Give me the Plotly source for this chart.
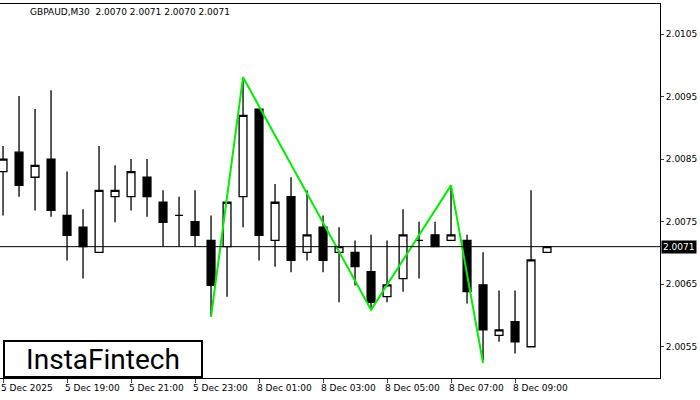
import plotly.graph_objects as go

symbol = "GBPAUD,M30  2.0070 2.0071 2.0070 2.0071"
opens = [2.00830, 2.00861, 2.00821, 2.00850, 2.00760, 2.00741, 2.00701, 2.00790, 2.00790, 2.00821,
         2.00781, 2.00760, 2.00750, 2.00720, 2.00710, 2.00790, 2.00930, 2.00720, 2.00790, 2.00701,
         2.00741, 2.00701, 2.00701, 2.00670, 2.00630, 2.00659, 2.00720, 2.00729, 2.00720, 2.00720,
         2.00649, 2.00568, 2.00590, 2.00550, 2.00701]
highs = [2.00871, 2.00951, 2.00930, 2.00960, 2.00830, 2.00770, 2.00871, 2.00840, 2.00850, 2.00850,
         2.00800, 2.00790, 2.00800, 2.00760, 2.00781, 2.00981, 2.00930, 2.00810, 2.00821, 2.00800,
         2.00760, 2.00741, 2.00720, 2.00729, 2.00720, 2.00770, 2.00750, 2.00750, 2.00808, 2.00729,
         2.00701, 2.00640, 2.00640, 2.00800, 2.00710]
lows = [2.00760, 2.00790, 2.00768, 2.00758, 2.00688, 2.00659, 2.00701, 2.00749, 2.00768, 2.00758,
        2.00710, 2.00710, 2.00710, 2.00598, 2.00630, 2.00741, 2.00688, 2.00678, 2.00669, 2.00688,
        2.00669, 2.00621, 2.00648, 2.00612, 2.00621, 2.00638, 2.00659, 2.00710, 2.00720, 2.00619,
        2.00528, 2.00558, 2.00539, 2.00550, 2.00701]
closes = [2.00850, 2.00808, 2.00840, 2.00768, 2.00728, 2.00710, 2.00800, 2.00800, 2.00830, 2.00790,
          2.00749, 2.00760, 2.00728, 2.00648, 2.00781, 2.00920, 2.00728, 2.00781, 2.00688, 2.00729,
          2.00688, 2.00710, 2.00678, 2.00621, 2.00649, 2.00729, 2.00720, 2.00710, 2.00729, 2.00638,
          2.00577, 2.00577, 2.00558, 2.00689, 2.00710]

# head & shoulders pattern points (candle index, price)
pattern_x = [13, 15, 23, 28, 30]
pattern_y = [2.00598, 2.00981, 2.00609, 2.00808, 2.00524]

tick_idx = [0, 4, 8, 12, 16, 20, 24, 28, 32]
tick_text = ["5 Dec 2025", "5 Dec 19:00", "5 Dec 21:00", "5 Dec 23:00", "8 Dec 01:00",
             "8 Dec 03:00", "8 Dec 05:00", "8 Dec 07:00", "8 Dec 09:00"]
price_ticks = [2.0055, 2.0065, 2.0075, 2.0085, 2.0095, 2.0105]
last_price = 2.0071

x = list(range(len(opens)))

fig = go.Figure()
fig.add_trace(go.Candlestick(
    x=x, open=opens, high=highs, low=lows, close=closes,
    increasing=dict(fillcolor="white", line=dict(color="black", width=1.3)),
    decreasing=dict(fillcolor="black", line=dict(color="black", width=1.3)),
    whiskerwidth=0, showlegend=False, hoverinfo="skip"))
fig.add_trace(go.Scatter(x=pattern_x, y=pattern_y, mode="lines",
                         line=dict(color="#00ee00", width=2), showlegend=False))

fig.add_shape(type="line", xref="paper", x0=0, x1=1, y0=last_price, y1=last_price,
              line=dict(color="black", width=1))

for i, t in zip(tick_idx, tick_text):
    fig.add_annotation(x=i, y=0, xref="x", yref="paper", yanchor="top", xanchor="left",
                       text=t, showarrow=False, xshift=-4, yshift=-3,
                       font=dict(size=9, color="black"))

fig.add_annotation(x=1, y=last_price, xref="paper", yref="y", xanchor="left",
                   text=f"{last_price:.4f}", showarrow=False, bgcolor="black",
                   font=dict(size=9, color="white"), xshift=1, borderpad=1)
fig.add_annotation(x=0, y=1, xref="paper", yref="paper", xanchor="left", yanchor="top",
                   text=symbol, showarrow=False, xshift=28, yshift=-1,
                   font=dict(size=9, color="black"))
fig.add_annotation(x=0.004, y=0.0, xref="paper", yref="paper", xanchor="left", yanchor="bottom",
                   text="InstaFintech", showarrow=False, bgcolor="white",
                   bordercolor="black", borderwidth=2, borderpad=0, width=196, height=34,
                   font=dict(size=28, color="black", family="Roboto"))

fig.update_layout(
    width=700, height=400, margin=dict(l=0, r=40, t=4, b=22),
    paper_bgcolor="white", plot_bgcolor="white",
    xaxis=dict(range=[-0.19, 41.06], tickvals=tick_idx, ticktext=[""] * len(tick_idx),
               ticks="outside", ticklen=4, showgrid=False, zeroline=False, automargin=False,
               rangeslider=dict(visible=False), showline=True, linecolor="black", mirror=True),
    yaxis=dict(side="right", range=[2.00500, 2.01098], tickvals=price_ticks, automargin=False,
               ticktext=[f"{p:.4f}" for p in price_ticks], ticks="outside", ticklen=3,
               showgrid=False, zeroline=False, showline=True, linecolor="black", mirror=True,
               tickfont=dict(size=9, color="black")),
    font=dict(family="DejaVu Sans"),
)

fig.write_html("out.html", config={"displayModeBar": False},
               post_script="document.body.style.margin='0';")
